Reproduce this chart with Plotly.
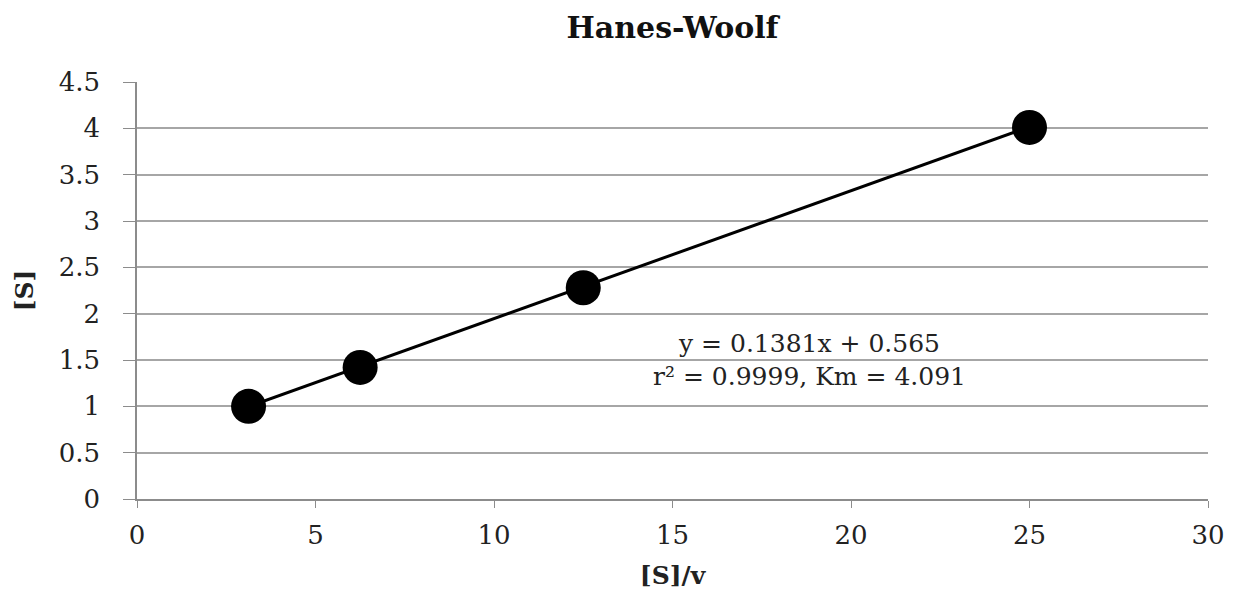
import plotly.graph_objects as go

x_vals = [3.125, 6.25, 12.5, 25.0]
y_vals = [1.0, 1.42, 2.28, 4.01]
slope = 0.1381
intercept = 0.565
eq_lines = ["y = 0.1381x + 0.565", "r² = 0.9999, Km = 4.091"]
x_ticks = [0, 5, 10, 15, 20, 25, 30]
y_ticks = [0, 0.5, 1, 1.5, 2, 2.5, 3, 3.5, 4, 4.5]

font = "DejaVu Serif, serif"

fit_x = [min(x_vals), max(x_vals)]
fit_y = [slope * v + intercept for v in fit_x]

fig = go.Figure()
fig.add_trace(go.Scatter(x=fit_x, y=fit_y, mode="lines",
                         line=dict(color="black", width=3), showlegend=False, hoverinfo="skip"))
fig.add_trace(go.Scatter(x=x_vals, y=y_vals, mode="markers",
                         marker=dict(color="black", size=35, line=dict(width=0)), showlegend=False))

fig.add_annotation(x=18.85, y=1.5, xref="x", yref="y", text="<br>".join(eq_lines),
                   showarrow=False, font=dict(family=font, size=25, color="#222"),
                   align="center")

fig.update_layout(
    width=1234, height=594,
    margin=dict(l=129, r=34, t=74, b=103),
    paper_bgcolor="white", plot_bgcolor="white",
    title=dict(text="<b>Hanes-Woolf</b>", x=0.5, xref="paper", xanchor="center",
               y=0.968, yanchor="middle",
               font=dict(family=font, size=30, color="#111")),
    font=dict(family=font, size=25, color="#222"),
    xaxis=dict(range=[0, 30], tickvals=x_ticks, showgrid=False, zeroline=False,
               showline=True, linecolor="#8c8c8c", linewidth=1.5, ticks="outside", ticklen=7,
               tickcolor="#8c8c8c", tickfont=dict(size=26), ticklabelstandoff=5,
               title=dict(text="<b>[S]/v</b>", font=dict(size=25), standoff=18)),
    yaxis=dict(range=[0, 4.5], tickvals=y_ticks, showgrid=True, gridcolor="#a6a6a6", gridwidth=1.5,
               zeroline=False, showline=True, linecolor="#8c8c8c", linewidth=1.5,
               ticks="outside", ticklen=12, tickcolor="#8c8c8c", tickfont=dict(size=26),
               ticklabelstandoff=18,
               title=dict(text="<b>[S]</b>", font=dict(size=25), standoff=18)),
)

fig.write_html("out.html")
